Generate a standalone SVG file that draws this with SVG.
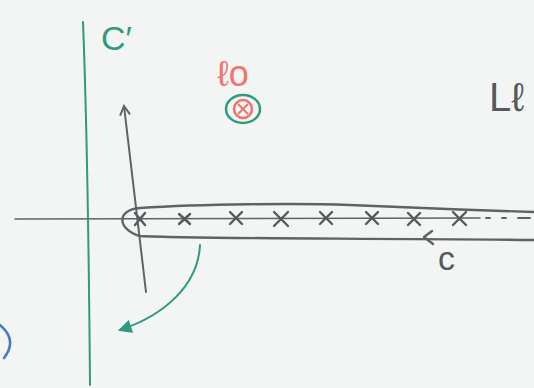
<svg xmlns="http://www.w3.org/2000/svg" width="534" height="388" viewBox="0 0 534 388">
<defs>
<style>
.g{stroke:#5f6365;fill:none;stroke-linecap:round;stroke-linejoin:round}
.gr{stroke:#2e9a7e;fill:none;stroke-linecap:round;stroke-linejoin:round}
.x{stroke:#55595b;stroke-width:2.4;stroke-linecap:round}
.t{font-family:"Liberation Sans",Arial,sans-serif}
</style>
<marker id="ag" viewBox="0 0 12 12" refX="10" refY="6" markerWidth="12" markerHeight="12" markerUnits="userSpaceOnUse" orient="auto">
<path d="M1,1 L10,6 L1,11" fill="none" stroke="#5f6365" stroke-width="2"/>
</marker>
<marker id="agr" viewBox="0 0 14 14" refX="12" refY="7" markerWidth="14" markerHeight="14" markerUnits="userSpaceOnUse" orient="auto">
<path d="M1,1 L13,7 L1,13 Z" fill="#2e9a7e" stroke="#2e9a7e" stroke-width="1"/>
</marker>
</defs>
<rect width="534" height="388" fill="#f3f5f5"/>

<g id="axis">
<path class="g" d="M15,219 L480,218" stroke-width="1.6"/>
<path class="g" d="M486,218 L490,218 M502,218 L506,218 M518,218 L530,218" stroke-width="2"/>
</g>

<g id="line-Cprime">
<path class="gr" d="M83,22 Q88,150 90,385" stroke-width="2"/>
<text class="t" x="101" y="50" font-size="34" fill="#2e9a7e">C′</text>
</g>

<g id="poles">
<path class="x" d="M135,213 L145,225 M145,213 L135,225"/>
<path class="x" d="M179,214 L190,224 M190,214 L179,224"/>
<path class="x" d="M230,212 L242,224 M242,212 L230,224"/>
<path class="x" d="M274,212 L288,226 M288,212 L274,226"/>
<path class="x" d="M320,212 L332,224 M332,212 L320,224"/>
<path class="x" d="M366,212 L378,224 M378,212 L366,224"/>
<path class="x" d="M408,213 L420,225 M420,213 L408,225"/>
<path class="x" d="M453,212 L466,225 M466,212 L453,225"/>
</g>

<g id="contour-C">
<path class="g" stroke-width="2.4" d="M534,212 C470,210 420,208 350,205 C300,203 200,204 140,208 C115,210 118,230 140,236 C200,239 350,238 534,240"/>
<path class="g" stroke-width="2.4" d="M432,231 L424,237 L433,244"/>
<text class="t" x="438" y="270" font-size="34" fill="#55595b">c</text>
</g>

<g id="pole-l0">
<text class="t" x="217" y="86" font-size="36" fill="#f07468">ℓo</text>
<ellipse cx="243" cy="109" rx="17" ry="14" class="gr" stroke-width="2.5"/>
<circle cx="243" cy="109" r="9" fill="none" stroke="#f07468" stroke-width="2.5"/>
<path d="M238,104 L248,114 M248,104 L238,114" stroke="#f07468" stroke-width="2"/>
</g>

<g id="label-L">
<text class="t" x="489" y="111" font-size="40" fill="#55595b">Lℓ</text>
</g>

<g id="left-arc">
<path d="M0,325 Q18,340 4,358" fill="none" stroke="#4a78c0" stroke-width="2.5" stroke-linecap="round"/>
</g>

<g id="connectors">
<path class="g" stroke-width="2" d="M146,292 L124,106" marker-end="url(#ag)"/>
<path class="gr" stroke-width="2" d="M200,245 C198,285 165,315 120,330" marker-end="url(#agr)"/>
</g>
</svg>
